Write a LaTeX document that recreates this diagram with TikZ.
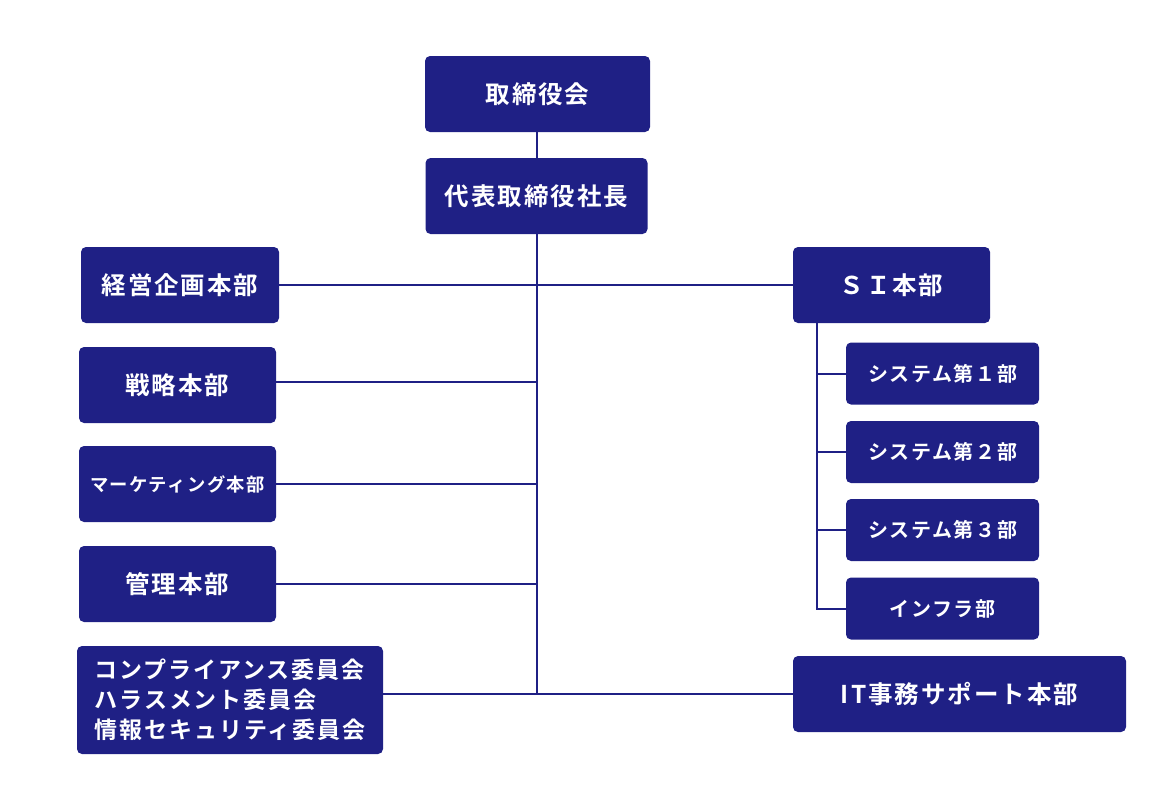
\documentclass[tikz,border=0pt]{standalone}
\usepackage{fontspec}
\newfontfamily\jp[UprightFont=* Bold, LetterSpace=8]{Noto Sans CJK JP}
\definecolor{navy}{RGB}{31,32,133}
\tikzset{
  orgbox/.style={fill=navy, draw=none, rounded corners=5pt, text=white, inner sep=0pt, anchor=center},
  big/.style={font=\jp\fontsize{24.5}{30}\selectfont},
  mid/.style={font=\jp\fontsize{20}{26}\selectfont},
  small/.style={font=\jp\fontsize{18.3}{24}\selectfont},
  link/.style={draw=navy, line width=2pt},
}
\begin{document}
\begin{tikzpicture}[x=1pt,y=-1pt]
\useasboundingbox (0,0) rectangle (1175,807);
% top
\node[orgbox,big,minimum width=225,minimum height=76] (board) at (537.5,94) {取締役会};
\node[orgbox,big,minimum width=222,minimum height=76] (pres) at (536.5,196) {代表取締役社長};
% left
\node[orgbox,big,minimum width=198,minimum height=76] (keiei) at (180,285) {経営企画本部};
\node[orgbox,big,minimum width=197,minimum height=76] (senr) at (177.5,385) {戦略本部};
\node[orgbox,small,minimum width=197,minimum height=76] (mkt) at (177.5,484) {マーケティング本部};
\node[orgbox,big,minimum width=197,minimum height=76] (kanri) at (177.5,584) {管理本部};
\node[orgbox,font=\jp\fontsize{23}{30}\selectfont,align=left,minimum width=306,minimum height=108] (comm) at (230,700) {コンプライアンス委員会\\ハラスメント委員会\\情報セキュリティ委員会};
% right
\node[orgbox,big,minimum width=197,minimum height=76] (si) at (891.5,285) {ＳＩ本部};
\node[orgbox,mid,minimum width=193,minimum height=62] (s1) at (942.5,373.5) {システム第１部};
\node[orgbox,mid,minimum width=193,minimum height=62] (s2) at (942.5,452) {システム第２部};
\node[orgbox,mid,minimum width=193,minimum height=62] (s3) at (942.5,530) {システム第３部};
\node[orgbox,mid,minimum width=193,minimum height=62] (infra) at (942.5,608.5) {インフラ部};
\node[orgbox,big,minimum width=333,minimum height=76] (it) at (959.5,694) {IT事務サポート本部};
% connectors
\coordinate (tbot) at (536.5,694);
\coordinate (sib) at (817,323);
\draw[link] (board.south -| pres.south) -- (pres.north);
\draw[link] (pres.south) -- (tbot);
\draw[link] (keiei.east) -- (si.west);
\draw[link] ([yshift=3pt]senr.east) -- ([yshift=3pt]senr.east -| tbot);
\draw[link] (mkt.east) -- (mkt.east -| tbot);
\draw[link] (kanri.east) -- (kanri.east -| tbot);
\draw[link] (it.west -| comm.east) -- (it.west);
\draw[link] (sib) |- (infra.west);
\draw[link] (s1.west) -- (s1.west -| sib);
\draw[link] (s2.west) -- (s2.west -| sib);
\draw[link] (s3.west) -- (s3.west -| sib);
\end{tikzpicture}
\end{document}
